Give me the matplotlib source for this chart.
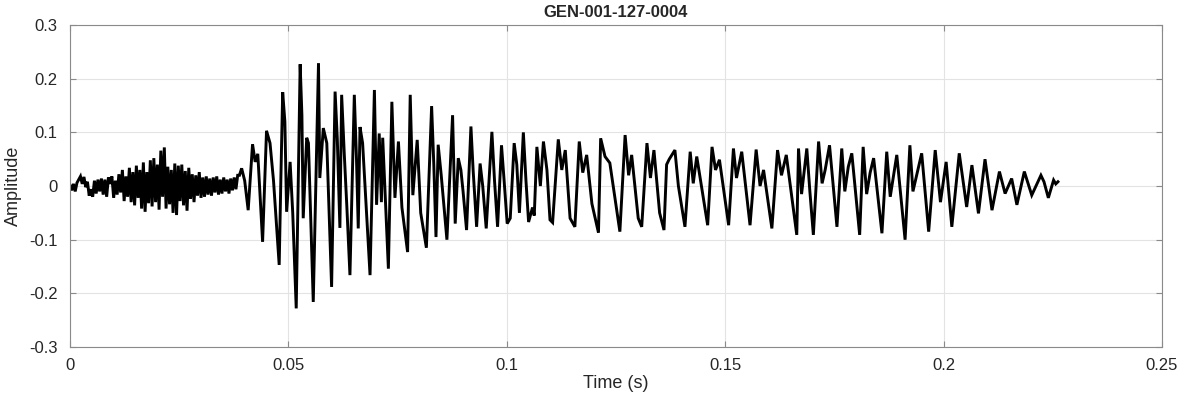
import numpy as np
import matplotlib
matplotlib.use("Agg")
import matplotlib.pyplot as plt
from matplotlib.ticker import FormatStrFormatter

# Low-level noise before the onset, one value every 0.4 ms starting at t = 0
noise_step_ms = 0.4
noise_amp = [
    0.002, -0.008, 0.004, -0.010, 0.006, 0.012, 0.018, 0.004, 0.017, -0.002,
    0.008, -0.018, -0.006, -0.020, 0.010, -0.014, 0.012, -0.010, 0.014, -0.016,
    0.012, -0.020, 0.016, 0.004, 0.018, -0.022, 0.010, -0.016, 0.022, -0.012,
    0.030, -0.028, 0.018, -0.020, 0.034, -0.030, 0.026, -0.036, 0.038, -0.022,
    0.030, -0.042, 0.044, -0.048, 0.026, -0.032, 0.048, -0.038, 0.052, -0.030,
    0.040, -0.044, 0.066, -0.020, 0.072, -0.042, 0.036, -0.034, 0.030, -0.050,
    0.042, -0.054, 0.038, -0.028, 0.040, -0.036, 0.028, -0.046, 0.034, -0.024,
    0.022, -0.030, 0.020, -0.018, 0.026, -0.022, 0.016, -0.020, 0.018, -0.016,
    0.014, -0.018, 0.016, -0.012, 0.018, -0.016, 0.012, -0.014, 0.016, -0.010,
    0.012, -0.014, 0.014, -0.008, 0.016, -0.006, 0.020, 0.020,
]

# Main burst: turning points (time in ms, amplitude)
burst_t_ms = [
    39.3, 40.0, 40.8, 41.8, 42.4, 43.0, 44.1, 45.0, 45.8, 46.6,
    47.9, 48.3, 48.7, 49.2, 49.6, 50.4, 51.0, 51.8, 52.7, 53.1,
    53.4, 54.2, 54.6, 55.7, 56.9, 57.2, 58.0, 58.8, 59.9, 60.7,
    61.2, 61.8, 62.2, 62.8, 63.4, 64.1, 65.1, 65.6, 66.0, 66.4,
    67.0, 68.7, 69.7, 70.2, 70.8, 71.3, 71.6, 72.9, 73.7, 74.4,
    75.2, 76.0, 77.3, 77.9, 78.5, 79.5, 80.3, 81.6, 82.8, 83.3,
    83.8, 84.3, 85.0, 86.3, 87.6, 88.2, 88.9, 89.5, 90.0, 90.8,
    91.8, 92.3, 93.1, 93.9, 94.5, 95.3, 96.6, 97.2, 97.9, 98.8,
    99.4, 100.1, 100.8, 101.7, 102.3, 102.9, 103.8, 104.4, 105.0, 105.9,
    106.3, 106.9, 107.7, 108.4, 109.2, 109.9, 110.5, 111.8, 112.6, 113.4,
    114.5, 115.6, 116.6, 117.4, 118.3, 119.5, 121.0, 121.5, 122.5, 123.6,
    125.9, 127.1, 127.9, 128.6, 130.1, 130.9, 132.1, 132.9, 133.7, 135.0,
    136.0, 136.6, 137.2, 138.5, 139.3, 140.8, 142.0, 142.7, 143.5, 146.0,
    147.0, 147.8, 148.7, 150.8, 151.9, 152.6, 153.8, 155.7, 157.1, 158.0,
    158.8, 160.7, 162.0, 162.9, 164.0, 166.4, 166.8, 167.5, 168.7, 169.4,
    170.2, 171.4, 172.2, 172.9, 173.9, 175.6, 176.7, 177.4, 178.2, 179.0,
    180.8, 181.6, 182.4, 183.2, 184.0, 185.9, 187.0, 187.8, 189.3, 191.2,
    192.3, 193.0, 195.0, 196.6, 198.1, 199.3, 200.6, 201.9, 203.6, 205.3,
    206.5, 208.0, 209.5, 211.1, 212.8, 214.1, 215.6, 216.8, 218.5, 220.2,
    222.3, 223.0, 224.0, 225.2, 225.7, 226.2,
]
burst_amp = [
    0.033, 0.010, -0.045, 0.078, 0.045, 0.060, -0.104, 0.103, 0.080, 0.010,
    -0.147, 0.020, 0.175, 0.120, -0.048, 0.045, -0.050, -0.228, 0.227, 0.132,
    -0.060, 0.090, 0.080, -0.216, 0.229, 0.015, 0.108, 0.080, -0.188, 0.176,
    0.089, -0.078, 0.170, 0.060, -0.040, -0.166, 0.170, 0.050, -0.079, 0.110,
    0.080, -0.166, 0.179, -0.035, 0.098, -0.030, 0.090, -0.154, 0.157, -0.022,
    0.083, -0.040, -0.123, 0.170, -0.017, 0.086, -0.050, -0.115, 0.149, 0.040,
    -0.095, 0.077, 0.020, -0.100, 0.132, -0.070, 0.052, 0.030, -0.010, -0.082,
    0.111, 0.030, -0.076, 0.042, 0.000, -0.079, 0.101, 0.010, -0.076, 0.076,
    0.010, -0.070, -0.060, 0.080, 0.040, -0.050, 0.100, 0.010, -0.067, -0.040,
    -0.055, 0.073, 0.000, 0.083, 0.030, -0.063, -0.068, 0.087, 0.030, 0.067,
    -0.060, -0.076, 0.083, 0.025, 0.058, -0.033, -0.087, 0.089, 0.055, 0.043,
    -0.085, 0.095, 0.020, 0.058, -0.060, -0.076, 0.080, 0.015, 0.067, -0.050,
    -0.082, 0.040, 0.050, 0.067, 0.000, -0.076, 0.064, 0.005, 0.055, -0.073,
    0.073, 0.030, 0.049, -0.073, 0.070, 0.015, 0.064, -0.073, 0.068, 0.000,
    0.030, -0.079, 0.067, 0.020, 0.058, -0.091, 0.070, -0.015, 0.070, -0.010,
    -0.091, 0.083, 0.005, 0.030, 0.076, -0.076, 0.070, -0.010, 0.036, 0.061,
    -0.091, 0.073, -0.015, 0.025, 0.052, -0.088, 0.064, -0.020, 0.058, -0.100,
    0.076, -0.010, 0.061, -0.085, 0.067, -0.030, 0.045, -0.076, 0.061, -0.039,
    0.039, -0.051, 0.050, -0.045, 0.027, -0.014, 0.014, -0.035, 0.027, -0.017,
    0.020, 0.008, -0.022, 0.011, 0.004, 0.008,
]

title = "GEN-001-127-0004"
x_ticks = [0, 0.05, 0.1, 0.15, 0.2, 0.25]
y_ticks = [-0.3, -0.2, -0.1, 0, 0.1, 0.2, 0.3]

noise_t = np.arange(len(noise_amp)) * noise_step_ms
t = np.concatenate([noise_t, burst_t_ms]) / 1000.0
amp = np.concatenate([noise_amp, burst_amp])

plt.rcParams["font.family"] = ["Liberation Sans", "DejaVu Sans"]
plt.rcParams["axes.unicode_minus"] = False

fig = plt.figure(figsize=(11.82, 4.04), dpi=100)
ax = fig.add_axes([0.0592, 0.141, 0.9238, 0.797])

ax.plot(t, amp, color="black", linewidth=2.1, solid_joinstyle="miter")

ax.set_xlim(0, 0.25)
ax.set_ylim(-0.3, 0.3)
ax.set_xticks(x_ticks)
ax.set_yticks(y_ticks)
ax.xaxis.set_major_formatter(FormatStrFormatter("%g"))
ax.yaxis.set_major_formatter(FormatStrFormatter("%g"))

ax.grid(True, color="#e3e3e3", linewidth=0.8)
ax.set_axisbelow(True)
for s in ax.spines.values():
    s.set_color("#8a8a8a")
    s.set_linewidth(0.8)
ax.tick_params(direction="in", length=4, width=0.8, color="#8a8a8a",
               labelcolor="#262626", labelsize=12, top=True, right=True)
ax.tick_params(axis="x", pad=8)
ax.tick_params(axis="y", pad=9)

ax.set_xlabel("Time (s)", fontsize=13, color="#262626", labelpad=1)
ax.set_ylabel("Amplitude", fontsize=13, color="#262626", labelpad=5)
ax.set_title(title, fontsize=12, fontweight="bold", color="#262626", pad=6)

fig.savefig("out.png", dpi=100)
